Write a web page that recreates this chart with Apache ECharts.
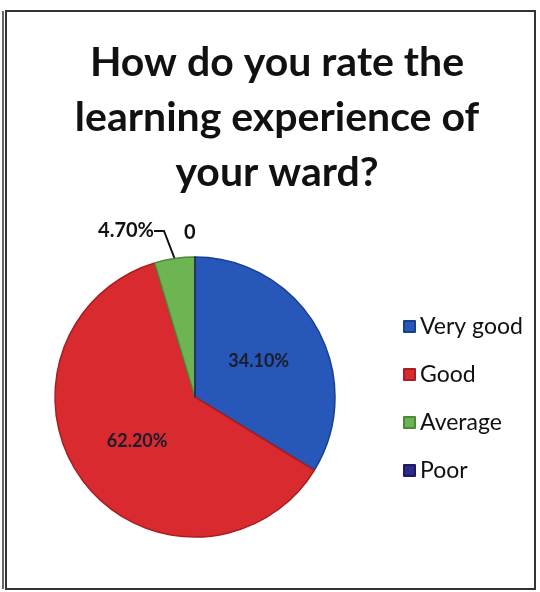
<!DOCTYPE html>
<html>
<head>
<meta charset="utf-8">
<script src="https://cdn.jsdelivr.net/npm/echarts@6/dist/echarts.min.js"></script>
<style>
  html, body { margin: 0; padding: 0; background: #fff; }
  #chart { width: 540px; height: 592px; }
</style>
</head>
<body>
<div id="chart"></div>
<script>
// data
const categories = ['Very good', 'Good', 'Average', 'Poor']
const values = [34.1, 62.2, 4.7, 0]
const labels = ['34.10%', '62.20%', '4.70%', '0']
const colors = ['#2757b8', '#d92a2f', '#6db552', '#2e2a8a']
const borders = ['#1a3f8f', '#a81e22', '#4d8a3a', '#1e1a66']

const chart = echarts.init(document.getElementById('chart'))

const seriesData = categories.map((name, i) => ({
  name,
  value: values[i],
  itemStyle: { color: colors[i], borderColor: borders[i], borderWidth: 1.5 },
  label: i < 2
    ? { position: 'inside', color: '#1c1c2a', fontWeight: 'bold', fontSize: 18 }
    : { position: 'outside', color: '#111', fontWeight: 'bold', fontSize: 20 },
  labelLine: { show: i === 2, length: 8, length2: 10, lineStyle: { color: '#111', width: 2 } }
}))

const option = {
  backgroundColor: '#fff',
  title: {
    text: 'How do you rate the\nlearning experience of\nyour ward?',
    left: 272,
    top: 30,
    textAlign: 'center',
    textStyle: {
      fontFamily: 'Lato',
      fontWeight: 'bold',
      fontSize: 41,
      lineHeight: 55,
      color: '#111'
    }
  },
  legend: {
    orient: 'vertical',
    left: 398,
    top: 310,
    itemWidth: 11,
    itemHeight: 11,
    itemGap: 25,
    icon: 'rect',
    data: categories,
    textStyle: { fontFamily: 'Lato', fontSize: 23, color: '#111' }
  },
  graphic: [
    { type: 'rect', shape: { x: 6, y: 11, width: 529, height: 578 },
      style: { fill: 'none', stroke: '#333', lineWidth: 2 } },
    { type: 'line', shape: { x1: 3, y1: 11, x2: 3, y2: 589 },
      style: { stroke: '#333', lineWidth: 1.5 } }
  ],
  series: [{
    type: 'pie',
    center: [195, 397],
    radius: 140,
    startAngle: 90,
    clockwise: true,
    avoidLabelOverlap: false,
    label: {
      fontFamily: 'Lato',
      formatter: p => labels[p.dataIndex]
    },
    labelLayout: p => {
      if (p.dataIndex === 2) return { x: 154, y: 231, align: 'right', verticalAlign: 'middle' }
      if (p.dataIndex === 3) return { x: 184, y: 233, align: 'left', verticalAlign: 'middle' }
      return {}
    },
    emphasis: { disabled: true },
    data: seriesData
  }]
}

chart.setOption(option)
</script>
</body>
</html>
